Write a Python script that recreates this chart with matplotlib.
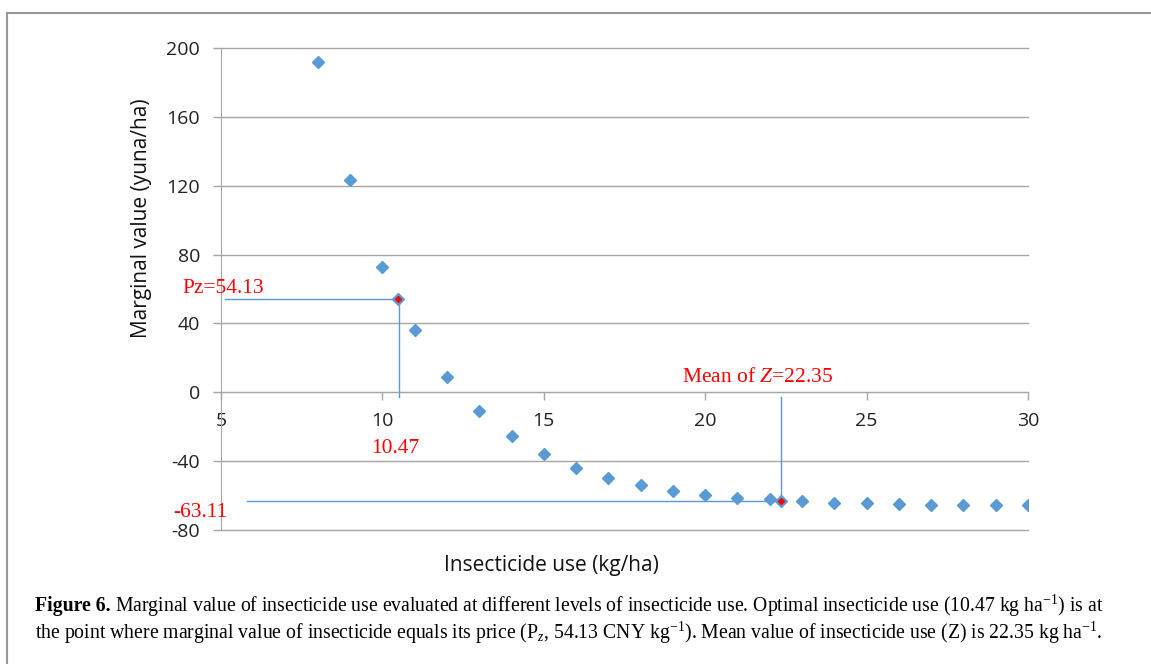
import matplotlib
matplotlib.use("Agg")
import matplotlib.pyplot as plt
from matplotlib.lines import Line2D

# marginal value of insecticide at each use level
use_levels = [8, 9, 10, 11, 12, 13, 14, 15, 16, 17, 18, 19, 20, 21, 22,
              23, 24, 25, 26, 27, 28, 29, 30]
marginal_value = [192, 123.5, 73, 36, 9, -11, -25.5, -36, -44, -50, -54,
                  -57.2, -59.7, -61.3, -62.2, -63.4, -64.2, -64.6, -65.0,
                  -65.2, -65.4, -65.6, -65.6]

optimal_use = 10.47
price_pz = 54.13
mean_use = 22.35
value_at_mean = -63.11

x_ticks = [5, 10, 15, 20, 25, 30]
y_ticks = [-80, -40, 0, 40, 80, 120, 160, 200]

blue = "#5B9BD5"
grid_gray = "#A6A6A6"
red = "#FF0000"

plt.rcParams["axes.unicode_minus"] = False
plt.rcParams["mathtext.fontset"] = "custom"
plt.rcParams["mathtext.rm"] = "Liberation Serif"
plt.rcParams["mathtext.it"] = "Liberation Serif:italic"
plt.rcParams["mathtext.bf"] = "Liberation Serif:bold"

fig = plt.figure(figsize=(11.51, 6.64), dpi=100)
ax = fig.add_axes([221 / 1151, 1 - 530 / 664, (1028 - 221) / 1151, (530 - 48) / 664])

ax.set_xlim(5, 30)
ax.set_ylim(-80, 200)
ax.set_xticks(x_ticks)
ax.set_yticks(y_ticks)
ax.grid(axis="y", color=grid_gray, lw=1.0)
for gl in ax.get_ygridlines():
    gl.set_clip_on(False)
ax.set_axisbelow(True)

for side in ("top", "right"):
    ax.spines[side].set_visible(False)
ax.spines["left"].set_color(grid_gray)
ax.spines["bottom"].set_color(grid_gray)
ax.spines["bottom"].set_position(("data", 0))
ax.tick_params(axis="both", colors=grid_gray, length=6, width=1,
               labelcolor="#222222", labelsize=14)
ax.tick_params(axis="x", pad=8)
ax.tick_params(axis="y", pad=9)
for lab in ax.get_xticklabels() + ax.get_yticklabels():
    lab.set_fontfamily("Open Sans")

fig.text(141 / 1151, 1 - 218 / 664, "Marginal value (yuna/ha)", fontsize=15,
         family="Open Sans", rotation=90, ha="center", va="center", color="#111111")
fig.text(551 / 1151, 1 - 565 / 664, "Insecticide use (kg/ha)", fontsize=15,
         family="Open Sans", ha="center", va="center", color="#111111")

ax.plot(use_levels, marginal_value, ls="none", marker="D", ms=6, color=blue,
        zorder=3)

# guide lines for optimum and mean
ax.plot([5.12, optimal_use], [price_pz, price_pz], color=blue, lw=1, zorder=2)
ax.plot([optimal_use + 0.05, optimal_use + 0.05], [52, -2.5], color=blue, lw=1, zorder=2)
ax.plot([mean_use, mean_use], [-3, value_at_mean + 0.5], color=blue, lw=1, zorder=2)
ax.plot([5.8, mean_use - 0.1], [value_at_mean, value_at_mean], color=blue, lw=1, zorder=2)

ax.plot([optimal_use, mean_use], [price_pz, value_at_mean], ls="none",
        marker="D", ms=6, color=blue, zorder=4)
ax.plot([optimal_use, mean_use], [price_pz, value_at_mean], ls="none",
        marker="D", ms=3, color=red, zorder=5)

serif = "Liberation Serif"
ax.text(3.82, 60.3, f"Pz={price_pz:.2f}", color=red, fontsize=15.5, family=serif,
        va="center", ha="left", clip_on=False)
ax.text(10.39, -32.5, f"{optimal_use:.2f}", color=red, fontsize=15.5, family=serif,
        va="center", ha="center", clip_on=False)
ax.text(19.27, 8.7, f"Mean of $Z$={mean_use:.2f}", color=red, fontsize=15.5,
        family=serif, va="center", ha="left", clip_on=False)
ax.text(3.51, -69.6, f"{value_at_mean:.2f}", color=red, fontsize=15.5, family=serif,
        va="center", ha="left", clip_on=False)

# frame around the figure panel
fig.add_artist(Line2D([7 / 1151, 1], [1 - 13 / 664] * 2, color="#999999", lw=1.5))
fig.add_artist(Line2D([7 / 1151] * 2, [0, 1 - 13 / 664], color="#999999", lw=1.5))

# caption with bold lead-in
cap_size = 14.2
lead = fig.text(35 / 1151, 1 - 606 / 664, "Figure 6.", fontsize=cap_size,
                family=serif, weight="bold", va="center", ha="left")
fig.canvas.draw()
bb = lead.get_window_extent()
fig.text((bb.x1 + 4) / 1151, 1 - 606 / 664,
         r"Marginal value of insecticide use evaluated at different levels of insecticide use. "
         r"Optimal insecticide use (10.47 kg ha$^{-1}$) is at",
         fontsize=cap_size, family=serif, va="center", ha="left")
fig.text(35 / 1151, 1 - 633 / 664,
         r"the point where marginal value of insecticide equals its price (P$_{z}$, 54.13 CNY kg$^{-1}$). "
         r"Mean value of insecticide use (Z) is 22.35 kg ha$^{-1}$.",
         fontsize=cap_size, family=serif, va="center", ha="left")

fig.savefig("out.png", dpi=100)
